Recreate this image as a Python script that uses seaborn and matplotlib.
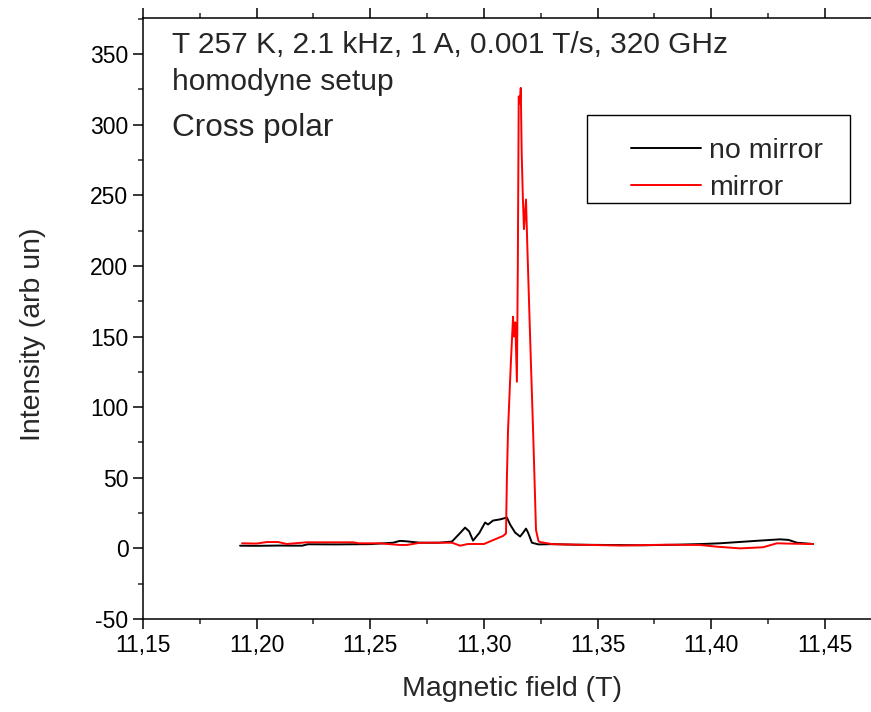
import numpy as np
import pandas as pd
import matplotlib
matplotlib.use("Agg")
import matplotlib.pyplot as plt
import seaborn as sns
from matplotlib.patches import Rectangle
from matplotlib.ticker import MultipleLocator, FuncFormatter

# no mirror (siyah)
field_nomirror = [11.1927, 11.200, 11.210, 11.220, 11.2225, 11.235, 11.250, 11.2600, 11.2630,
                  11.2660, 11.2688, 11.2720, 11.2800, 11.2859, 11.2890, 11.2917, 11.2935,
                  11.2952, 11.2980, 11.3005, 11.3018, 11.3040, 11.3070, 11.3101, 11.3115,
                  11.3137, 11.3159, 11.3172, 11.3185, 11.3194, 11.3211, 11.3240, 11.3300,
                  11.3400, 11.3550, 11.3700, 11.3850, 11.3960, 11.4038, 11.4140, 11.4214,
                  11.4302, 11.4340, 11.4377, 11.4448]
int_nomirror = [1.9, 1.8, 2.0, 1.9, 2.9, 2.8, 3.0, 4.0, 5.3,
                5.0, 4.5, 4.0, 4.0, 4.8, 10.0, 14.7, 12.0,
                5.5, 11.0, 18.3, 16.9, 19.7, 20.5, 21.8, 16.9,
                11.2, 8.4, 11.0, 14.0, 11.2, 4.0, 2.8, 3.0,
                2.6, 2.4, 2.2, 2.6, 3.1, 3.6, 4.7, 5.5,
                6.4, 6.0, 4.0, 3.1]

# mirror (kırmızı)
field_mirror = [11.1936, 11.2000, 11.2045, 11.2094, 11.2133, 11.2220, 11.2424, 11.2450,
                11.2540, 11.2630, 11.2660, 11.2720, 11.2860, 11.2895, 11.2930, 11.3000,
                11.3035, 11.3084, 11.3097, 11.3101, 11.3106, 11.3118, 11.3128, 11.3132,
                11.3138, 11.3145, 11.3149, 11.3153, 11.3158, 11.3162, 11.3166, 11.3171,
                11.3176, 11.3185, 11.3191, 11.3203, 11.3217, 11.3229, 11.3240, 11.3247,
                11.3300, 11.3450, 11.3600, 11.3800, 11.3950, 11.4025, 11.4127, 11.4228,
                11.4289, 11.4360, 11.4448]
int_mirror = [3.6, 3.4, 4.5, 4.5, 3.1, 4.3, 4.3, 3.6,
              3.6, 2.4, 2.4, 4.0, 4.0, 1.9, 3.1, 3.1,
              5.5, 8.8, 10.6, 50.0, 84.0, 130.0, 164.0, 150.0,
              160.0, 118.0, 200.0, 320.0, 315.0, 326.0, 280.0, 249.0,
              226.0, 247.0, 213.0, 150.0, 79.0, 13.0, 5.0, 4.5,
              3.0, 2.5, 2.0, 2.6, 2.4, 1.2, 0.0, 0.8,
              3.6, 3.3, 3.1]

x_ticks = [11.15, 11.20, 11.25, 11.30, 11.35, 11.40, 11.45]
y_ticks = [-50, 0, 50, 100, 150, 200, 250, 300, 350]

sns.set_style("ticks")
plt.rcParams["font.family"] = ["Liberation Sans", "DejaVu Sans"]
plt.rcParams["axes.unicode_minus"] = False

fig = plt.figure(figsize=(8.71, 7.12), dpi=100)
ax = fig.add_axes([143 / 871, 93 / 712, 757 / 871, 601 / 712])

sns.lineplot(x=field_nomirror, y=int_nomirror, color="black", linewidth=1.4,
             sort=False, estimator=None, ax=ax, label="no mirror")
sns.lineplot(x=field_mirror, y=int_mirror, color="#ff0000", linewidth=1.4,
             sort=False, estimator=None, ax=ax, label="mirror")

ax.set_xlim(11.15, 11.15 + 757 / 2273)
ax.set_ylim(-50, 375.5)
ax.set_xticks(x_ticks)
ax.set_yticks(y_ticks)
ax.xaxis.set_minor_locator(MultipleLocator(0.025))
ax.yaxis.set_minor_locator(MultipleLocator(25))
ax.xaxis.set_major_formatter(FuncFormatter(lambda v, p: f"{v:.2f}".replace(".", ",")))

for s in ["left", "bottom", "top"]:
    ax.spines[s].set_linewidth(1.1)
    ax.spines[s].set_color("black")
ax.spines["right"].set_visible(False)
ax.tick_params(which="major", direction="out", length=7, width=1.1, labelsize=16.5,
               top=True, right=False, colors="black")
ax.tick_params(which="minor", direction="out", length=3.8, width=1.1, top=True, right=False)

ax.set_xlabel("Magnetic field (T)", fontsize=20.5)
ax.set_ylabel("Intensity (arb un)", fontsize=20.5)
ax.xaxis.set_label_coords(0.4875, -0.095)
ax.yaxis.set_label_coords(-0.128, 0.474)

ax.text(0.0383, 0.9418, "T 257 K, 2.1 kHz, 1 A, 0.001 T/s, 320 GHz", transform=ax.transAxes,
        fontsize=21.5, va="baseline", ha="left")
ax.text(0.0383, 0.881, "homodyne setup", transform=ax.transAxes,
        fontsize=21.5, va="baseline", ha="left")
ax.text(0.0383, 0.8037, "Cross polar", transform=ax.transAxes,
        fontsize=22.7, va="baseline", ha="left")

# legend kutusu
leg = ax.legend(loc="upper left", bbox_to_anchor=(631 / 871, 1 - 138 / 712),
                bbox_transform=fig.transFigure, frameon=False, fontsize=20.5,
                handlelength=2.45, handletextpad=0.3, labelspacing=0.4, borderpad=0,
                borderaxespad=0)
fig.add_artist(Rectangle((587 / 871, 1 - 203 / 712), 263 / 871, 88 / 712,
                         transform=fig.transFigure, fill=False, edgecolor="black", linewidth=1))

plt.savefig("out.png", dpi=100)
